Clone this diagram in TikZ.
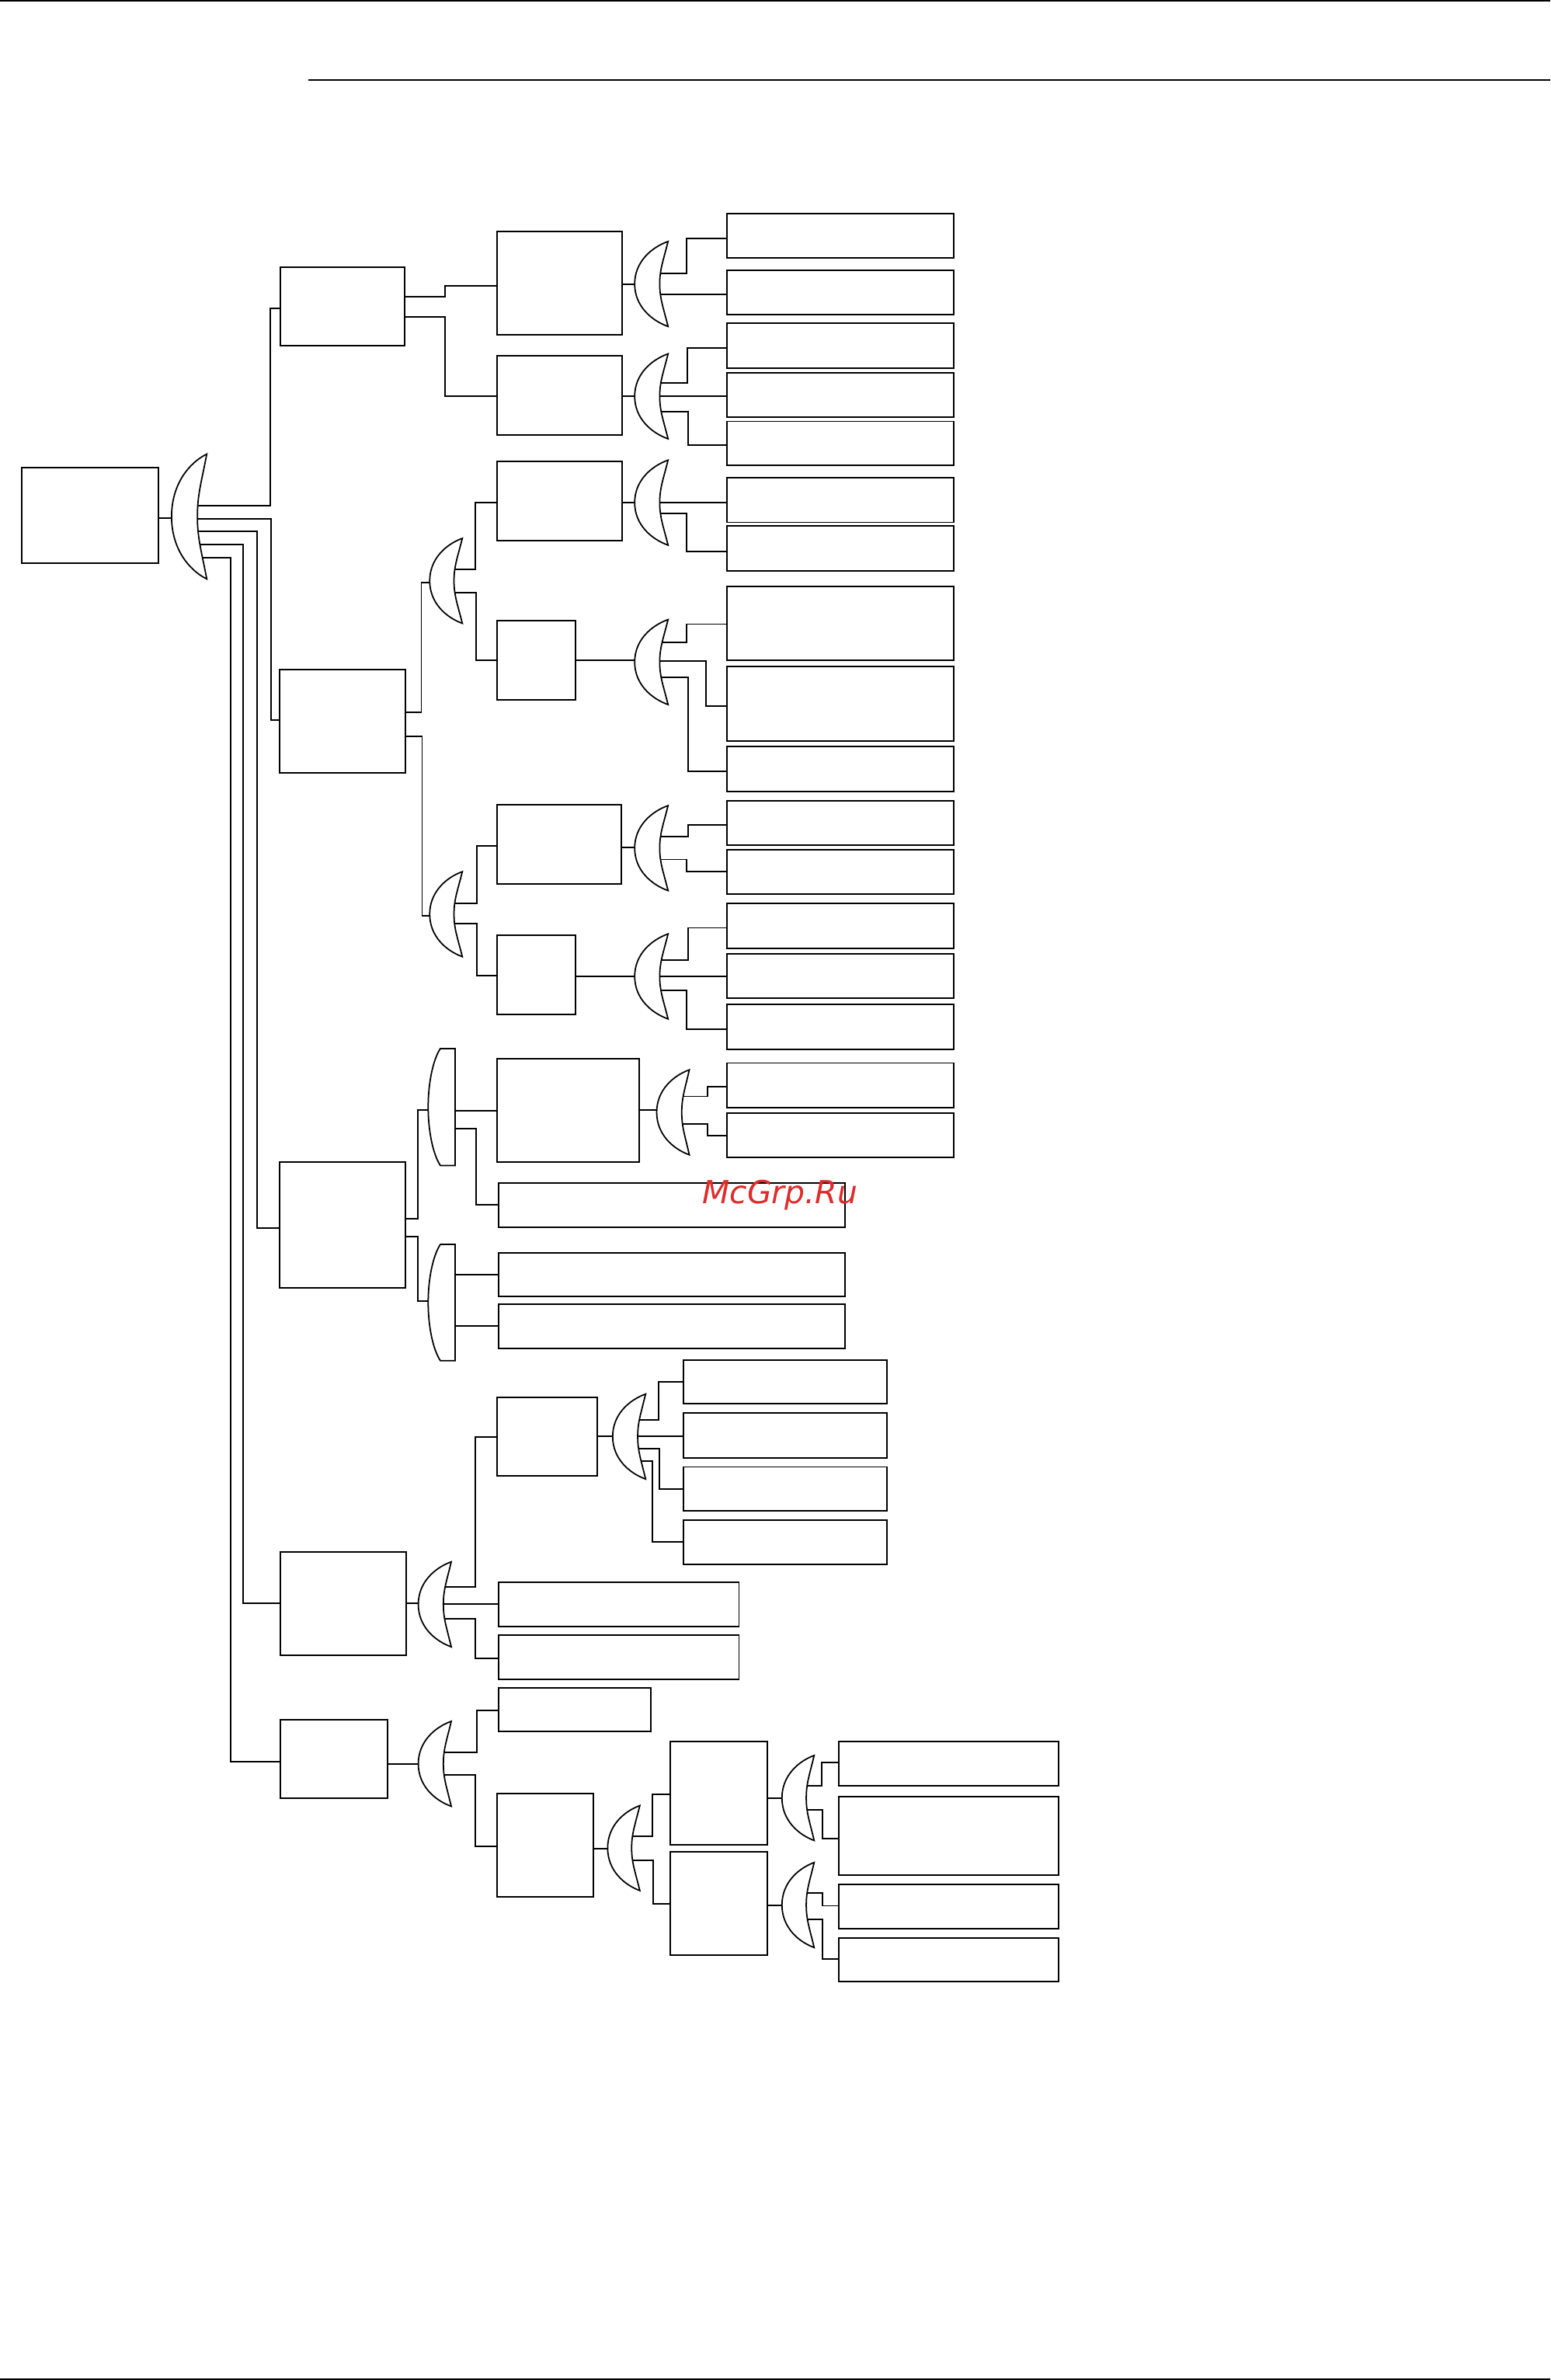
\documentclass[tikz,border=0pt]{standalone}
\usepackage{fontspec}
\newfontfamily\wmfont{DejaVu Sans}
\usetikzlibrary{backgrounds}
\definecolor{wmred}{RGB}{222,44,44}
\tikzset{
  boxn/.style={draw=black,fill=white,line width=1pt,inner sep=0pt,outer sep=0pt},
  conn/.style={draw=black,line width=1pt,line join=miter},
  crs/.style={draw=black,fill=white,line width=.9pt,line join=miter},
  rule/.style={draw=black,line width=.9pt}
}
% box from corners
\newcommand\bx[5]{\pgfmathsetmacro\mybw{#4-#2}\pgfmathsetmacro\mybh{#5-#3}%
  \node[boxn,minimum width=\mybw pt,minimum height=\mybh pt] (#1) at ({(#2+#4)/2+.2},{(#3+#5)/2}) {};}
% crescent: name, left, inner, tip, top, bottom
\newcommand\cresc[6]{%
  \pgfmathsetmacro\cm{(#5+#6)/2}\pgfmathsetmacro\ch{#6-#5}\pgfmathsetmacro\cw{#4-#2}\pgfmathsetmacro\cd{#4-#3}%
  \draw[crs] (#4,#5) .. controls ({#2+.5*\cw},{#5+.07*\ch}) and (#2,{#5+.24*\ch}) .. (#2,\cm)
    .. controls (#2,{#6-.24*\ch}) and ({#2+.5*\cw},{#6-.07*\ch}) .. (#4,#6)
    .. controls ({#4-.62*\cd},{#6-.24*\ch}) and (#3,{\cm+.17*\ch}) .. (#3,\cm)
    .. controls (#3,{\cm-.17*\ch}) and ({#4-.62*\cd},{#5+.24*\ch}) .. (#4,#5) -- cycle;
  \coordinate (#1) at (#3,\cm);\coordinate (#1-l) at (#2,\cm);}
% half shape: name, left, right, top, bottom
\newcommand\halfc[5]{%
  \pgfmathsetmacro\cm{(#4+#5)/2}\pgfmathsetmacro\ch{#5-#4}%
  \draw[crs] (#3,#4) -- ({#2+8},#4) .. controls ({#2+3},{#4+.1*\ch}) and (#2,{#4+.3*\ch}) .. (#2,\cm)
    .. controls (#2,{#5-.3*\ch}) and ({#2+3},{#5-.1*\ch}) .. ({#2+8},#5) -- (#3,#5) -- cycle;
  \coordinate (#1) at (#3,\cm);\coordinate (#1-l) at (#2,\cm);}
% elbow connector: from, y1, x, to, y2
\newcommand\elb[5]{\draw[conn] (#1 |- 0,#2) -- (#3,#2) |- (#4 |- 0,#5);}
% straight connector: from, to, y
\newcommand\stg[3]{\draw[conn] (#1 |- 0,#3) -- (#2 |- 0,#3);}
\begin{document}
\begin{tikzpicture}[x=1pt,y=-1pt]
\useasboundingbox (0,0) rectangle (1021,1567.3);
\coordinate (ruleAl) at (0,0.5);\coordinate (ruleAr) at (1021,0.5);
\coordinate (ruleBl) at (203,52.5);\coordinate (ruleBr) at (1021,52.5);
\coordinate (ruleCl) at (0,1566.7);\coordinate (ruleCr) at (1021,1566.7);
\draw[rule] (ruleAl) -- (ruleAr);
\draw[rule] (ruleBl) -- (ruleBr);
\draw[rule] (ruleCl) -- (ruleCr);
% boxes
\bx{root}{14}{308}{104}{371}
\bx{A}{184.5}{176}{266.5}{227.5}
\bx{B}{184}{441}{267}{509}
\bx{C}{184}{765}{267}{848}
\bx{D}{184.5}{1022}{267.5}{1090}
\bx{E}{184.5}{1132.5}{255}{1184}
\bx{Aa}{327}{152.5}{409.5}{220.5}
\bx{Ab}{327}{234.5}{409.5}{286.5}
\bx{Ba}{327}{304}{409.5}{356}
\bx{Bb}{327}{408.5}{379}{461}
\bx{Bc}{327}{530}{409}{582}
\bx{Bd}{327}{616}{379}{668}
\bx{Ca}{327}{697}{421}{765}
\bx{Cb}{328}{779}{556.5}{808}
\bx{Cc}{328}{825}{556.5}{853.5}
\bx{Cd}{328}{859}{556.5}{888}
\bx{Da}{327}{920}{393}{972}
\bx{Db}{328}{1042}{486.5}{1071}
\bx{Dc}{328}{1076.5}{486.5}{1106}
\bx{Ea}{328}{1111.5}{428.5}{1140}
\bx{Eb}{327}{1181}{390.5}{1249}
\bx{La}{478.5}{140.5}{628}{170}
\bx{Lb}{478.5}{178}{628}{207}
\bx{Lc}{478.5}{213}{628}{242.5}
\bx{Ld}{478.5}{245.5}{628}{274.5}
\bx{Le}{478.5}{277.5}{628}{306.5}
\bx{Lf}{478.5}{314.5}{628}{344}
\bx{Lg}{478.5}{346.5}{628}{376}
\bx{Lh}{478.5}{386}{628}{435}
\bx{Li}{478.5}{439}{628}{488}
\bx{Lj}{478.5}{491.5}{628}{521}
\bx{Lk}{478.5}{527.5}{628}{556.5}
\bx{Ll}{478.5}{559.5}{628}{589}
\bx{Lm}{478.5}{595}{628}{624.5}
\bx{Ln}{478.5}{628}{628}{657.5}
\bx{Lo}{478.5}{661.5}{628}{691}
\bx{Lp}{478.5}{700}{628}{729.5}
\bx{Lq}{478.5}{733}{628}{762}
\bx{Ma}{450}{895.5}{584}{924.5}
\bx{Mb}{450}{930.5}{584}{960}
\bx{Mc}{450}{966}{584}{995}
\bx{Md}{450}{1001}{584}{1030}
\bx{Fa}{441}{1147}{505}{1215}
\bx{Fb}{441}{1219.5}{505}{1287.5}
\bx{Na}{552}{1147}{697}{1176}
\bx{Nb}{552}{1183}{697}{1235}
\bx{Nc}{552}{1241}{697}{1270}
\bx{Nd}{552}{1276}{697}{1305}
% crescents
\cresc{Rc}{113}{130}{136.2}{299}{381.3}
\cresc{Bx}{283}{299}{304.5}{354.5}{410.5}
\cresc{By}{283}{299}{304.5}{574}{630}
\cresc{Ac}{418}{434.5}{440}{159}{215}
\cresc{Ad}{418}{434.5}{440}{233}{289}
\cresc{Be}{418}{434.5}{440}{303}{359}
\cresc{Bf}{418}{434.5}{440}{408}{464}
\cresc{Bg}{418}{434.5}{440}{530.5}{586.5}
\cresc{Bh}{418}{434.5}{440}{615}{671}
\halfc{Cx}{282}{299.7}{690.5}{767.5}
\halfc{Cy}{282}{299.7}{819.5}{896}
\cresc{Cz}{432.5}{449}{454}{704.5}{760.5}
\cresc{Dx}{275.5}{292}{297.2}{1028.5}{1084.5}
\cresc{Dy}{403.5}{420}{425.2}{918}{974}
\cresc{Ex}{275.5}{292}{297.2}{1133.5}{1189.5}
\cresc{Ey}{400.2}{416}{421.4}{1189}{1245}
\cresc{Fx}{515}{531}{536.2}{1156}{1212}
\cresc{Fy}{515}{531}{536.2}{1226.5}{1282.5}
\node[font=\wmfont\itshape\fontsize{20.9}{22}\selectfont,text=wmred,inner sep=0pt,anchor=base west] (wm) at (462.5,792.5) {McGrp.Ru};
\begin{scope}[on background layer]
% root
\stg{root.east}{Rc-l}{341}
\elb{Rc}{333}{178}{A.west}{203}
\elb{Rc}{341.5}{178.5}{B.west}{474}
\elb{Rc}{350}{169.3}{C.west}{808.5}
\elb{Rc}{358.7}{160}{D.west}{1056}
\elb{Rc}{367.2}{152}{E.west}{1160}
% A
\elb{A.east}{195.3}{293}{Aa.west}{188}
\elb{A.east}{208.7}{293}{Ab.west}{260.7}
\stg{Aa.east}{Ac-l}{187}
\elb{Ac}{180}{452}{La.west}{157}
\stg{Ac}{Lb.west}{194}
\stg{Ab.east}{Ad-l}{261}
\elb{Ad}{252}{452.5}{Lc.west}{229}
\stg{Ad}{Ld.west}{261}
\elb{Ad}{271}{453}{Le.west}{293}
% B
\elb{B.east}{469}{277.5}{Bx-l}{383.5}
\elb{B.east}{485}{278}{By-l}{603}
\elb{Bx}{375}{313}{Ba.west}{331}
\elb{Bx}{390.5}{313.5}{Bb.west}{435}
\elb{By}{595}{314}{Bc.west}{557}
\elb{By}{608}{314}{Bd.west}{642.5}
\stg{Ba.east}{Be-l}{331}
\stg{Be}{Lf.west}{331}
\elb{Be}{338}{452}{Lg.west}{363}
\stg{Bb.east}{Bf-l}{435}
\elb{Bf}{423}{452}{Lh.west}{411}
\elb{Bf}{435.5}{465}{Li.west}{465}
\elb{Bf}{446}{453}{Lj.west}{508}
\stg{Bc.east}{Bg-l}{558}
\elb{Bg}{551}{453}{Lk.west}{543}
\elb{Bg}{566}{452}{Ll.west}{574}
\stg{Bd.east}{Bh-l}{643}
\elb{Bh}{632}{453}{Lm.west}{611}
\stg{Bh}{Ln.west}{643}
\elb{Bh}{652}{452}{Lo.west}{678}
% C
\elb{C.east}{802.6}{275}{Cx-l}{730.8}
\elb{C.east}{814.2}{275}{Cy-l}{856.6}
\stg{Cx}{Ca.west}{731.5}
\elb{Cx}{743}{313.7}{Cb.west}{793.5}
\stg{Cy}{Cc.west}{839.5}
\stg{Cy}{Cd.west}{873.4}
\stg{Ca.east}{Cz-l}{731}
\elb{Cz}{722}{466}{Lp.west}{715.5}
\elb{Cz}{740}{466}{Lq.west}{747.8}
% D
\stg{D.east}{Dx-l}{1056}
\elb{Dx}{1045}{313}{Da.west}{946.5}
\stg{Dx}{Db.west}{1056.5}
\elb{Dx}{1066}{313}{Dc.west}{1092}
\stg{Da.east}{Dy-l}{946}
\elb{Dy}{935}{434}{Ma.west}{910}
\stg{Dy}{Mb.west}{946}
\elb{Dy}{954}{434.5}{Mc.west}{980.5}
\elb{Dy}{962}{429.5}{Md.west}{1015.5}
% E
\stg{E.east}{Ex-l}{1161.5}
\elb{Ex}{1153.8}{314}{Ea.west}{1126.2}
\elb{Ex}{1168.7}{313}{Eb.west}{1216}
\stg{Eb.east}{Ey-l}{1217.3}
\elb{Ey}{1209}{429.6}{Fa.west}{1181.5}
\elb{Ey}{1225}{430}{Fb.west}{1253.8}
\stg{Fa.east}{Fx-l}{1184}
\elb{Fx}{1175.9}{541.2}{Na.west}{1160.7}
\elb{Fx}{1192}{541.5}{Nb.west}{1210.6}
\stg{Fb.east}{Fy-l}{1254.6}
\elb{Fy}{1246.4}{541.5}{Nc.west}{1255}
\elb{Fy}{1263.8}{541.5}{Nd.west}{1290}
\end{scope}
\end{tikzpicture}
\end{document}
